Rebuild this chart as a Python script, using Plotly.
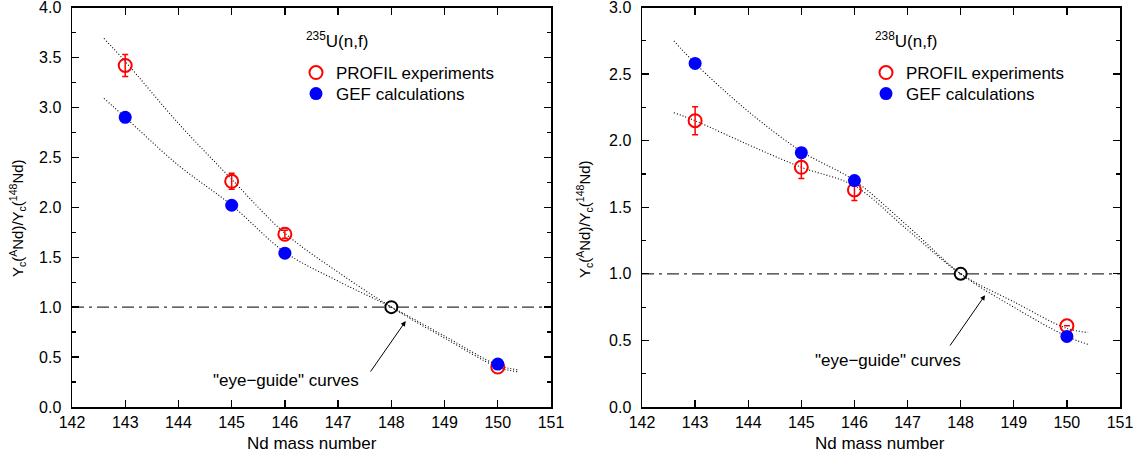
import plotly.graph_objects as go

# ---------------- data ----------------
mass = [143, 145, 146, 150]
ref_mass = [148]
ref_ratio = [1.0]

u235_profil = [3.42, 2.26, 1.73, 0.40]
u235_profil_err = [0.11, 0.08, 0.04, 0.0]
u235_gef = [2.90, 2.02, 1.54, 0.43]

u238_profil = [2.15, 1.80, 1.63, 0.61]
u238_profil_err = [0.105, 0.085, 0.08, 0.0]
u238_gef = [2.58, 1.91, 1.70, 0.53]

# "eye-guide" curves, values
guide_mass = [142.6, 143, 144, 145, 146, 147, 148, 149, 150, 150.4]
u235_profil_guide = [3.69, 3.46, 2.84, 2.28, 1.74, 1.35, 1.00, 0.69, 0.40, 0.35]
u235_gef_guide = [3.09, 2.90, 2.42, 2.02, 1.55, 1.26, 1.00, 0.71, 0.42, 0.37]
u238_profil_guide = [2.21, 2.15, 1.97, 1.80, 1.66, 1.33, 1.00, 0.79, 0.59, 0.56]
u238_gef_guide = [2.75, 2.58, 2.22, 1.92, 1.70, 1.36, 1.00, 0.75, 0.53, 0.47]

x_ticks = list(range(142, 152))
y_ticks_235 = [0.0, 0.5, 1.0, 1.5, 2.0, 2.5, 3.0, 3.5, 4.0]
y_ticks_238 = [0.0, 0.5, 1.0, 1.5, 2.0, 2.5, 3.0]

FONT = "Liberation Sans, Arial, Helvetica, sans-serif"
W, H = 1147, 459

fig = go.Figure()

panels = [
    ("x", "y", u235_profil, u235_profil_err, u235_gef, u235_profil_guide, u235_gef_guide,
     "legend", "legend2"),
    ("x2", "y2", u238_profil, u238_profil_err, u238_gef, u238_profil_guide, u238_gef_guide,
     "legend3", "legend4"),
]

for xa, ya, prof, perr, gef, pg, gg, leg_p, leg_g in panels:
    # unity line
    fig.add_trace(go.Scatter(x=[x_ticks[0], x_ticks[-1]], y=[ref_ratio[0]] * 2, mode="lines",
                             line=dict(color="#333333", width=1.3, dash="12px,5px,3px,5px"),
                             xaxis=xa, yaxis=ya, showlegend=False, hoverinfo="skip"))
    # eye-guide curves
    for guide in (pg, gg):
        fig.add_trace(go.Scatter(x=guide_mass, y=guide, mode="lines",
                                 line=dict(color="black", width=1.1, dash="1px,2px",
                                           shape="spline", smoothing=1.0),
                                 xaxis=xa, yaxis=ya, showlegend=False, hoverinfo="skip"))
    fig.add_trace(go.Scatter(x=mass, y=prof, mode="markers", name="PROFIL experiments",
                             marker=dict(symbol="circle-open", size=13, color="red",
                                         line=dict(width=2, color="red")),
                             error_y=dict(type="data", array=perr, color="red", thickness=1.5, width=3),
                             xaxis=xa, yaxis=ya, legend=leg_p))
    fig.add_trace(go.Scatter(x=mass, y=gef, mode="markers", name="GEF calculations",
                             marker=dict(symbol="circle", size=13, color="blue"),
                             xaxis=xa, yaxis=ya, legend=leg_g))
    fig.add_trace(go.Scatter(x=ref_mass, y=ref_ratio, mode="markers",
                             marker=dict(symbol="circle-open", size=12, color="black",
                                         line=dict(width=2, color="black")),
                             xaxis=xa, yaxis=ya, showlegend=False))

left_dom = [72 / W, 551 / W]
right_dom = [642 / W, 1120 / W]
ydom = [(H - 407) / H, (H - 7.5) / H]

axis_common = dict(showline=True, linecolor="black", linewidth=1.5, mirror="allticks",
                   ticks="inside", ticklen=7, tickwidth=1.3, tickcolor="black",
                   showgrid=False, zeroline=False, automargin=False,
                   ticklabeloverflow="allow",
                   tickfont=dict(family=FONT, size=16, color="black"))
minor_y = dict(dtick=0.25, ticks="inside", ticklen=4, tickcolor="black", tickwidth=1.2)


def legend_at(xpx, ytop_px):
    return dict(x=xpx / W, y=1 - ytop_px / H, xanchor="left", yanchor="top",
                bgcolor="rgba(0,0,0,0)", font=dict(family=FONT, size=17, color="black"),
                itemwidth=30, tracegroupgap=0)


fig.update_layout(
    width=W, height=H,
    margin=dict(l=0, r=0, t=0, b=0, autoexpand=False),
    paper_bgcolor="white", plot_bgcolor="white",
    font=dict(family=FONT, size=17, color="black"),
    hovermode=False,
    xaxis=dict(domain=left_dom, range=[142, 151], tickvals=x_ticks, anchor="y", **axis_common),
    yaxis=dict(domain=ydom, range=[0, 4], tickvals=y_ticks_235, tickformat=".1f", anchor="x",
               minor=minor_y, ticklabelstandoff=6, **axis_common),
    xaxis2=dict(domain=right_dom, range=[142, 151], tickvals=x_ticks, anchor="y2", **axis_common),
    yaxis2=dict(domain=ydom, range=[0, 3], tickvals=y_ticks_238, tickformat=".1f", anchor="x2",
                minor=minor_y, ticklabelstandoff=6, **axis_common),
    legend=legend_at(296, 55),
    legend2=legend_at(296, 76),
    legend3=legend_at(866, 55),
    legend4=legend_at(866, 76),
)

ytitle = "Y<sub>c</sub>(<sup>A</sup>Nd)/Y<sub>c</sub>(<sup>148</sup>Nd)"
annots = [
    dict(x=18 / W, y=1 - 218 / H, text=ytitle, textangle=-90, font_size=15),
    dict(x=584 / W, y=1 - 219 / H, text=ytitle, textangle=-90, font_size=15),
    dict(x=312 / W, y=1 - 443 / H, text="Nd mass number"),
    dict(x=880 / W, y=1 - 443 / H, text="Nd mass number"),
    dict(x=337 / W, y=1 - 40 / H, text="<sup>235</sup>U(n,f)"),
    dict(x=906 / W, y=1 - 40 / H, text="<sup>238</sup>U(n,f)"),
]
for a in annots:
    fs = a.pop("font_size", 17)
    fig.add_annotation(xref="paper", yref="paper", showarrow=False,
                       xanchor="center", yanchor="middle",
                       font=dict(family=FONT, size=fs, color="black"), **a)

fig.add_annotation(xref="x", yref="y", x=146.03, y=0.27, text="\"eye\u2212guide\" curves",
                   showarrow=False, font=dict(family=FONT, size=17, color="black"))
fig.add_annotation(xref="x", yref="y", x=148.27, y=0.86, ax=147.59, ay=0.34, axref="x", ayref="y",
                   text="", showarrow=True, arrowhead=2, arrowsize=1, arrowwidth=1, arrowcolor="black")
fig.add_annotation(xref="x2", yref="y2", x=146.63, y=0.35, text="\"eye\u2212guide\" curves",
                   showarrow=False, font=dict(family=FONT, size=17, color="black"))
fig.add_annotation(xref="x2", yref="y2", x=148.46, y=0.84, ax=147.78, ay=0.45, axref="x2", ayref="y2",
                   text="", showarrow=True, arrowhead=2, arrowsize=1, arrowwidth=1, arrowcolor="black")

fig.write_html("out.html", config={"displayModeBar": False, "staticPlot": True},
               post_script="document.body.style.margin='0px';")
